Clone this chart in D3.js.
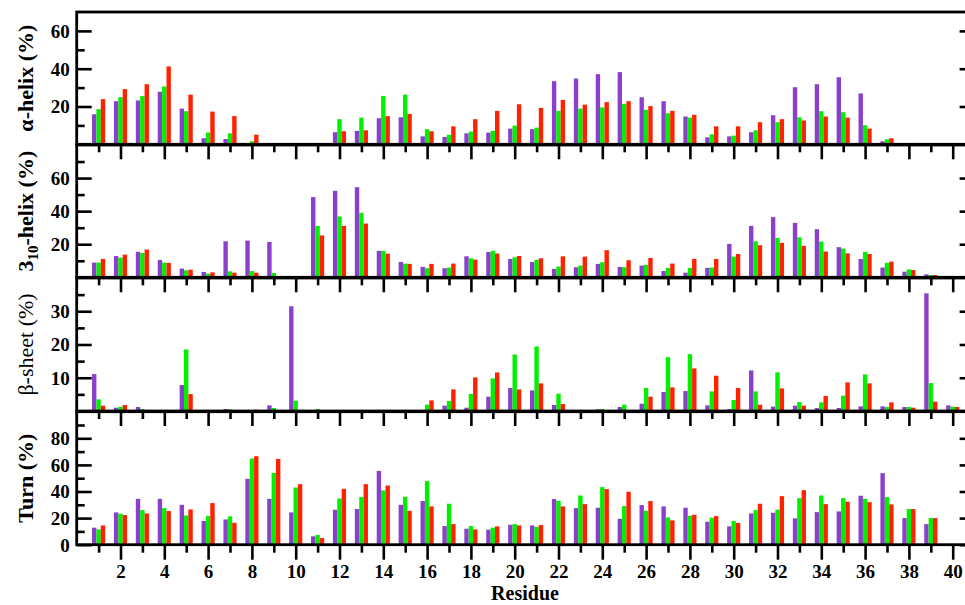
<!DOCTYPE html>
<html>
<head>
<meta charset="utf-8">
<script src="https://cdn.jsdelivr.net/npm/d3@7"></script>
<style>
  html, body { margin: 0; padding: 0; background: #fff; }
  svg { display: block; }
  text { font-family: "Liberation Serif", "Times New Roman", serif; }
</style>
</head>
<body>
<svg id="chart" width="965" height="605"></svg>
<script>
// Residue numbers along the x axis
const residues = d3.range(1, 41);
const xTickLabels = d3.range(2, 41, 2);

// Secondary-structure content (%) per residue for the three runs
const alphaRun1 = [15.9, 22.8, 23.2, 27.8, 18.9, 3.2, 2.8, 0.4, 0, 0, 0, 6.4, 7.1, 13.8, 14.3, 4.2, 3.9, 5.8, 6.2, 8.3, 8.0, 33.4, 34.8, 37.1, 38.2, 24.9, 22.8, 14.7, 3.7, 4.2, 6.4, 15.4, 30.2, 31.8, 35.5, 26.9, 1.6, 0.4, 0, 0];
const alphaRun2 = [18.6, 24.9, 25.5, 30.6, 17.5, 6.2, 5.8, 1.6, 0, 0, 0, 13.3, 14.1, 25.6, 26.3, 8.0, 5.0, 6.7, 7.1, 9.9, 8.8, 17.7, 18.9, 19.5, 21.4, 18.2, 16.4, 14.1, 5.3, 4.6, 7.4, 11.7, 14.3, 17.5, 17.0, 10.1, 2.7, 0.5, 0, 0];
const alphaRun3 = [23.9, 29.2, 31.8, 41.2, 26.3, 17.3, 14.9, 5.1, 0, 0, 0, 6.9, 7.4, 14.9, 16.1, 6.9, 9.5, 13.3, 17.7, 21.2, 19.3, 23.5, 21.0, 22.3, 22.8, 20.2, 17.7, 15.6, 9.5, 9.5, 11.7, 13.3, 12.6, 14.7, 14.1, 8.3, 3.2, 0.7, 0, 0];

const h310Run1 = [8.9, 12.9, 15.4, 10.5, 5.3, 3.2, 21.8, 22.2, 21.4, 0, 48.5, 52.3, 54.5, 16.0, 9.3, 6.3, 5.5, 12.7, 15.3, 11.1, 9.3, 5.1, 6.1, 8.1, 6.3, 7.1, 3.8, 2.8, 5.7, 20.2, 31.1, 36.4, 32.9, 29.1, 18.2, 11.1, 5.9, 3.4, 1.8, 0];
const h310Run2 = [8.9, 11.9, 14.7, 8.9, 4.2, 2.2, 3.6, 3.8, 2.6, 0, 31.1, 36.8, 39.0, 16.0, 8.3, 5.5, 5.9, 11.5, 16.0, 12.1, 10.5, 6.5, 7.1, 9.1, 6.1, 7.5, 5.7, 5.7, 5.9, 12.5, 21.8, 23.8, 24.2, 21.6, 17.4, 15.4, 8.7, 4.8, 1.4, 0];
const h310Run3 = [11.1, 13.7, 16.8, 8.7, 4.6, 3.0, 2.8, 2.8, 0, 0, 25.3, 31.1, 32.5, 14.3, 8.1, 8.1, 8.3, 10.7, 14.4, 12.9, 11.5, 12.7, 12.5, 16.4, 10.3, 11.7, 8.3, 11.1, 11.1, 14.1, 19.4, 20.8, 19.0, 15.6, 14.5, 14.1, 9.5, 4.4, 1.4, 0];

const betaRun1 = [11.1, 1.0, 1.2, 0, 7.8, 0, 0.6, 0.2, 1.7, 31.5, 0.3, 0, 0, 0, 0, 0, 1.6, 1.0, 4.3, 6.9, 6.2, 1.8, 0, 0.5, 1.2, 2.2, 5.7, 6.0, 1.7, 0.6, 12.2, 1.3, 1.6, 0.9, 0.9, 1.4, 1.4, 1.2, 35.4, 1.7];
const betaRun2 = [3.5, 1.3, 0.6, 0, 18.5, 0, 0.5, 0.2, 0.9, 3.1, 0.6, 0, 0, 0, 0, 1.9, 3.0, 5.1, 9.8, 17.0, 19.4, 5.2, 0, 0.6, 1.9, 6.9, 16.2, 17.1, 5.9, 3.3, 5.9, 11.6, 2.7, 2.6, 4.6, 11.0, 1.2, 1.2, 8.4, 1.3];
const betaRun3 = [1.6, 1.8, 0, 0, 5.1, 0, 0, 0.4, 0.2, 0, 0, 0, 0, 0, 0, 3.2, 6.5, 10.1, 11.6, 6.5, 8.3, 2.1, 0, 0, 0, 4.3, 7.1, 12.8, 10.6, 6.9, 1.9, 6.8, 1.6, 4.5, 8.6, 8.3, 2.6, 1.0, 2.8, 1.2];

const turnRun1 = [12.8, 24.3, 34.5, 34.5, 30.0, 17.8, 19.0, 49.5, 34.5, 24.3, 6.3, 26.3, 26.8, 55.5, 30.0, 32.8, 14.0, 12.0, 11.3, 15.0, 14.5, 34.3, 27.5, 27.8, 19.5, 29.8, 28.8, 27.8, 17.3, 13.8, 23.5, 24.0, 19.8, 24.5, 25.0, 36.8, 53.8, 20.0, 15.5, 0];
const turnRun2 = [11.5, 23.3, 26.0, 27.5, 22.0, 21.5, 21.3, 64.8, 54.0, 43.0, 7.3, 34.8, 35.8, 40.8, 36.0, 47.8, 30.8, 14.0, 12.8, 15.5, 13.5, 33.0, 37.0, 43.3, 29.0, 25.5, 20.5, 21.8, 20.3, 17.8, 26.0, 26.3, 35.0, 37.0, 35.0, 34.5, 35.8, 26.8, 20.0, 0];
const turnRun3 = [14.5, 22.3, 23.5, 25.3, 26.5, 31.3, 16.5, 66.5, 64.5, 45.5, 5.0, 42.0, 45.5, 44.5, 25.5, 28.8, 15.5, 11.5, 13.8, 14.5, 14.8, 28.8, 30.5, 41.8, 39.8, 32.8, 18.3, 22.5, 21.5, 16.3, 30.8, 36.5, 41.0, 30.5, 32.3, 32.0, 30.3, 26.8, 20.0, 0];

// Y-axis ranges and tick values for each panel
const yMaxes = [70, 80, 40, 100];
const yMajorTicks = [[20, 40, 60], [20, 40, 60], [10, 20, 30], [0, 20, 40, 60, 80]];
const yMinorTicks = [[10, 30, 50], [10, 30, 50, 70], [5, 15, 25, 35], [10, 30, 50, 70, 90]];

const runColors = ["#8a40cc", "#00f000", "#ff2200"];

const panels = [
  { values: [alphaRun1, alphaRun2, alphaRun3], label: "alpha" },
  { values: [h310Run1, h310Run2, h310Run3], label: "h310" },
  { values: [betaRun1, betaRun2, betaRun3], label: "beta" },
  { values: [turnRun1, turnRun2, turnRun3], label: "turn" }
];

const svg = d3.select("#chart");
const left = 76.7, right = 974.6;
const panelTops = [12, 145, 278, 411.7];
const panelBottoms = [144.3, 277.3, 411, 544.7];

const x = d3.scaleLinear().domain([0, 41]).range([left, right]);
const barW = 0.2;
const offsets = [-0.3, -0.1, 0.1];

panels.forEach((p, i) => {
  const top = panelTops[i], bottom = panelBottoms[i];
  const y = d3.scaleLinear().domain([0, yMaxes[i]]).range([bottom, top]);
  const g = svg.append("g");

  // bars: three runs side by side around each residue
  p.values.forEach((vals, s) => {
    g.append("g").selectAll("rect")
      .data(residues.map((r, k) => ({ r, v: vals[k] })).filter(d => d.v > 0))
      .join("rect")
      .attr("x", d => x(d.r + offsets[s]))
      .attr("width", x(barW) - x(0))
      .attr("y", d => y(d.v))
      .attr("height", d => y(0) - y(d.v))
      .attr("fill", runColors[s]);
  });

  // left axis: inward major and minor ticks
  const leftMajor = g.append("g").attr("transform", `translate(${left},0)`)
    .call(d3.axisLeft(y).tickValues(yMajorTicks[i]).tickSize(-15).tickSizeOuter(0).tickPadding(22)
      .tickFormat(d3.format("d")));
  const leftMinor = g.append("g").attr("transform", `translate(${left},0)`)
    .call(d3.axisLeft(y).tickValues(yMinorTicks[i]).tickSize(-8).tickSizeOuter(0).tickFormat(""));
  // right axis: inward major ticks only
  const rightMajor = g.append("g").attr("transform", `translate(${right},0)`)
    .call(d3.axisRight(y).tickValues(yMajorTicks[i]).tickSize(-15).tickSizeOuter(0).tickFormat(""));

  // bottom axis: long ticks at even residues, short at odd, pointing down
  const even = residues.filter(r => r % 2 === 0);
  const odd = residues.filter(r => r % 2 === 1);
  const botMajor = g.append("g").attr("transform", `translate(0,${bottom})`)
    .call(d3.axisBottom(x).tickValues(i === 3 ? xTickLabels : even).tickSize(15).tickSizeOuter(0).tickPadding(6)
      .tickFormat(i === 3 ? d3.format("d") : ""));
  const botMinor = g.append("g").attr("transform", `translate(0,${bottom})`)
    .call(d3.axisBottom(x).tickValues(odd).tickSize(8).tickSizeOuter(0).tickFormat(""));

  [leftMajor, leftMinor, rightMajor, botMajor, botMinor].forEach(a => {
    a.select(".domain").remove();
    a.selectAll(".tick line").attr("stroke", "#000").attr("stroke-width", 2.6);
    a.selectAll(".tick text").attr("font-size", 19).attr("font-weight", "bold")
      .attr("font-family", "Liberation Serif, Times New Roman, serif").attr("fill", "#000");
  });
  leftMajor.selectAll(".tick text").attr("x", -7).attr("dy", "0.34em");
  botMajor.selectAll(".tick text").attr("dy", "0").attr("y", 33);

  // frame
  g.append("rect")
    .attr("x", left).attr("y", top)
    .attr("width", right - left).attr("height", bottom - top)
    .attr("fill", "none").attr("stroke", "#000").attr("stroke-width", 2.8);

  // y-axis title
  const cy = (top + bottom) / 2;
  const t = svg.append("text")
    .attr("transform", `translate(33,${cy}) rotate(-90)`)
    .attr("text-anchor", "middle")
    .attr("font-size", 22)
    .attr("font-weight", p.label === "beta" ? "normal" : "bold")
    .attr("fill", "#000");
  if (p.label === "alpha") {
    t.text("α-helix (%)");
  } else if (p.label === "h310") {
    t.append("tspan").text("3");
    t.append("tspan").attr("font-size", 15).attr("dy", 5).text("10");
    t.append("tspan").attr("dy", -5).text("-helix (%)");
  } else if (p.label === "beta") {
    t.text("β-sheet (%)");
  } else {
    t.text("Turn (%)");
  }
});

// x-axis title
svg.append("text")
  .attr("x", 525).attr("y", 600)
  .attr("text-anchor", "middle")
  .attr("font-size", 20).attr("font-weight", "bold")
  .attr("fill", "#000")
  .text("Residue");
</script>
</body>
</html>
